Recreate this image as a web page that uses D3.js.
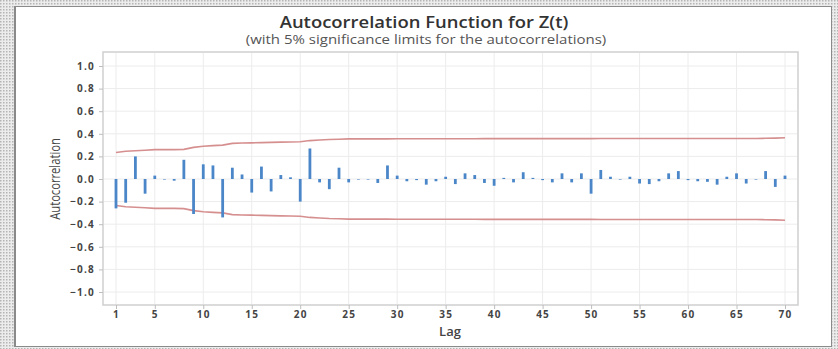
<!DOCTYPE html>
<html>
<head>
<meta charset="utf-8">
<script src="https://cdn.jsdelivr.net/npm/d3@7"></script>
<style>
  body { margin: 0; background: #fff; }
  svg { display: block; }
  .axis text { font-family: "Open Sans", sans-serif; font-weight: 700; font-size: 10px; fill: #444; letter-spacing: 1.2px; }
  .axis path { display: none; }
  .axis line { stroke: #bdbdbd; }
  .grid line { stroke: #ececec; }
</style>
</head>
<body>
<div id="graph"></div>
<script>
// lags 1..70
var lags = d3.range(1, 71);

// autocorrelation values
var acf = [
  -0.26, -0.21, 0.20, -0.13, 0.03, -0.005, -0.015, 0.17, -0.31, 0.13,
   0.12, -0.34, 0.10, 0.04, -0.12, 0.11, -0.11, 0.035, 0.015, -0.20,
   0.27, -0.03, -0.09, 0.10, -0.03, -0.005, -0.005, -0.035, 0.12, 0.03,
  -0.02, -0.01, -0.05, -0.02, 0.02, -0.045, 0.05, 0.035, -0.035, -0.06,
   0.01, -0.03, 0.06, 0.01, -0.01, -0.03, 0.05, -0.03, 0.05, -0.13,
   0.08, 0.02, -0.005, 0.02, -0.04, -0.045, -0.02, 0.05, 0.07, -0.01,
  -0.02, -0.025, -0.05, 0.02, 0.05, -0.04, -0.005, 0.07, -0.07, 0.03
];

// 5% significance limit (upper, the lower one is its negative)
var limits = [
  0.235, 0.245, 0.25, 0.255, 0.26, 0.26, 0.26, 0.262, 0.28, 0.29,
  0.295, 0.30, 0.315, 0.318, 0.32, 0.322, 0.324, 0.326, 0.328, 0.33,
  0.34, 0.345, 0.35, 0.352, 0.355, 0.355, 0.355, 0.355, 0.355, 0.356,
  0.356, 0.356, 0.356, 0.356, 0.356, 0.356, 0.356, 0.356, 0.357, 0.357,
  0.357, 0.357, 0.357, 0.357, 0.357, 0.357, 0.357, 0.357, 0.357, 0.357,
  0.358, 0.358, 0.358, 0.358, 0.358, 0.358, 0.358, 0.358, 0.358, 0.358,
  0.358, 0.358, 0.358, 0.358, 0.358, 0.358, 0.358, 0.36, 0.362, 0.365
];

var xTicks = [1, 5, 10, 15, 20, 25, 30, 35, 40, 45, 50, 55, 60, 65, 70];
var yTicks = [-1.0, -0.8, -0.6, -0.4, -0.2, 0.0, 0.2, 0.4, 0.6, 0.8, 1.0];

var W = 838, H = 349;
var frame = {left: 103, right: 798, top: 52, bottom: 305};

var x = d3.scaleLinear().domain([1, 70]).range([116, 785]);
var y = d3.scaleLinear().domain([-1, 1]).range([292, 66]);

var svg = d3.select("#graph").append("svg")
    .attr("width", W)
    .attr("height", H);

// dotted page background
var pat = svg.append("defs").append("pattern")
    .attr("id", "dots")
    .attr("width", 3).attr("height", 3)
    .attr("patternUnits", "userSpaceOnUse");
pat.append("rect").attr("width", 3).attr("height", 3).attr("fill", "#ececec");
pat.append("rect").attr("width", 1.5).attr("height", 1.5).attr("fill", "#b4b4b4");

svg.append("rect")
    .attr("width", W).attr("height", H)
    .attr("fill", "url(#dots)");

// white card with shadow edge
svg.append("rect")
    .attr("x", 14).attr("y", 6)
    .attr("width", 818).attr("height", 341)
    .attr("fill", "#8a8a8a");
svg.append("rect")
    .attr("x", 16).attr("y", 7)
    .attr("width", 815).attr("height", 339)
    .attr("fill", "#fff");

// plot frame
svg.append("rect")
    .attr("x", frame.left).attr("y", frame.top)
    .attr("width", frame.right - frame.left)
    .attr("height", frame.bottom - frame.top)
    .attr("fill", "#fff")
    .attr("stroke", "#cfcfcf")
    .attr("stroke-width", 1.5);

// grid
svg.append("g").attr("class", "grid")
  .selectAll("line.v").data(xTicks).enter().append("line")
    .attr("x1", function(d) { return x(d); })
    .attr("x2", function(d) { return x(d); })
    .attr("y1", frame.top + 1).attr("y2", frame.bottom - 1);
svg.append("g").attr("class", "grid")
  .selectAll("line.h").data(yTicks).enter().append("line")
    .attr("x1", frame.left + 1).attr("x2", frame.right - 1)
    .attr("y1", function(d) { return y(d); })
    .attr("y2", function(d) { return y(d); });

// axes
svg.append("g")
    .attr("class", "axis xaxis")
    .attr("transform", "translate(0," + frame.bottom + ")")
    .call(d3.axisBottom(x).tickValues(xTicks).tickSize(4).tickPadding(2));

svg.append("g")
    .attr("class", "axis yaxis")
    .attr("transform", "translate(" + frame.left + ",0)")
    .call(d3.axisLeft(y).tickValues(yTicks).tickSize(4).tickPadding(4)
        .tickFormat(d3.format(".1f")));

// significance limits
var upper = d3.line()
    .x(function(d, i) { return x(lags[i]); })
    .y(function(d) { return y(d); });
var lower = d3.line()
    .x(function(d, i) { return x(lags[i]); })
    .y(function(d) { return y(-d); });

svg.append("path")
    .attr("d", upper(limits))
    .attr("fill", "none")
    .attr("stroke", "#d68f8f")
    .attr("stroke-width", 1.6);
svg.append("path")
    .attr("d", lower(limits))
    .attr("fill", "none")
    .attr("stroke", "#d68f8f")
    .attr("stroke-width", 1.6);

// acf bars
svg.selectAll(".bar")
    .data(acf)
    .enter().append("line")
    .attr("class", "bar")
    .attr("x1", function(d, i) { return x(lags[i]); })
    .attr("x2", function(d, i) { return x(lags[i]); })
    .attr("y1", y(0))
    .attr("y2", function(d) { return y(d); })
    .attr("stroke", "#4a86c8")
    .attr("stroke-width", 2.8);

// titles
svg.append("text")
    .attr("transform", "translate(424,28) scale(1.12,1)")
    .attr("text-anchor", "middle")
    .style("font-family", "'Open Sans', sans-serif")
    .style("font-weight", "600")
    .style("font-size", "16.5px")
    .style("fill", "#333")
    .text("Autocorrelation Function for Z(t)");

svg.append("text")
    .attr("transform", "translate(426,44) scale(1.25,1)")
    .attr("text-anchor", "middle")
    .style("font-family", "'Open Sans', sans-serif")
    .style("font-size", "12px")
    .style("fill", "#555")
    .text("(with 5% significance limits for the autocorrelations)");

svg.append("text")
    .attr("text-anchor", "middle")
    .attr("transform", "translate(60,179) rotate(-90) scale(0.8,1)")
    .style("font-family", "'Open Sans', sans-serif")
    .style("font-size", "14px")
    .style("fill", "#444")
    .text("Autocorrelation");

svg.append("text")
    .attr("x", 450).attr("y", 336)
    .attr("text-anchor", "middle")
    .style("font-family", "'Open Sans', sans-serif")
    .style("font-weight", "600")
    .style("font-size", "13px")
    .style("fill", "#444")
    .text("Lag");
</script>
</body>
</html>
